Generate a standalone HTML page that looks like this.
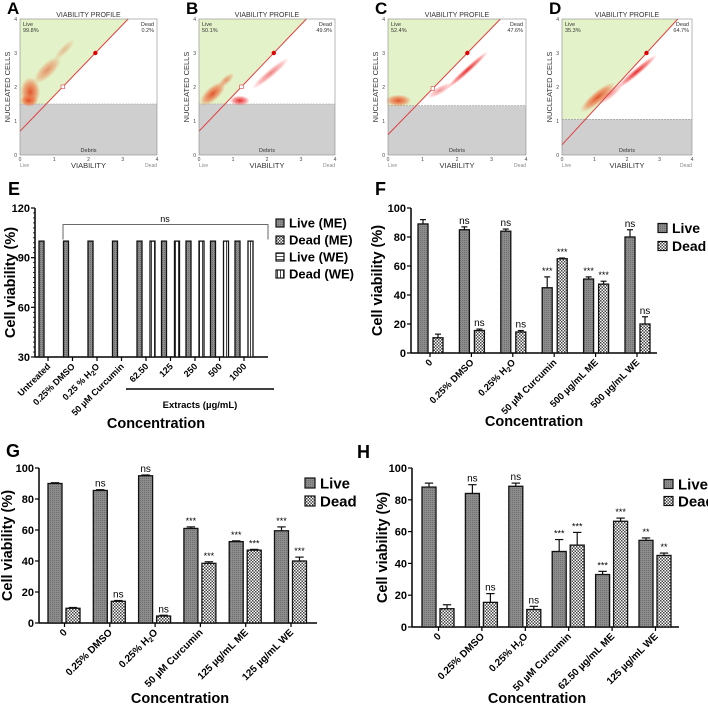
<!DOCTYPE html>
<html><head><meta charset="utf-8">
<style>
html,body{margin:0;padding:0;background:#fff;}
svg{display:block;font-family:"Liberation Sans",Arial,sans-serif;}
</style></head>
<body>
<svg id="fig" width="708" height="705" viewBox="0 0 708 705" xmlns="http://www.w3.org/2000/svg">
<defs>
<pattern id="pLive" width="2" height="2" patternUnits="userSpaceOnUse"><rect width="2" height="2" fill="#8c8c8c"/><rect width="1" height="1" fill="#6e6e6e"/></pattern>
<pattern id="pDead" width="3" height="3" patternUnits="userSpaceOnUse"><rect width="3" height="3" fill="#fff"/><rect width="1.5" height="1.5" fill="#444"/><rect x="1.5" y="1.5" width="1.5" height="1.5" fill="#444"/></pattern>
<pattern id="pLiveWE" width="3" height="3" patternUnits="userSpaceOnUse"><rect width="3" height="3" fill="#fff"/><rect y="1" width="3" height="1" fill="#555"/></pattern>
<pattern id="pDeadWE" width="3" height="3" patternUnits="userSpaceOnUse"><rect width="3" height="3" fill="#fff"/><rect x="1" width="1" height="3" fill="#444"/></pattern>
<radialGradient id="gOr"><stop offset="0" stop-color="#e04a20" stop-opacity="0.95"/><stop offset="0.6" stop-color="#f07040" stop-opacity="0.6"/><stop offset="1" stop-color="#f08050" stop-opacity="0"/></radialGradient>
<radialGradient id="gRd"><stop offset="0" stop-color="#e01010" stop-opacity="0.9"/><stop offset="0.6" stop-color="#f03030" stop-opacity="0.5"/><stop offset="1" stop-color="#ff4040" stop-opacity="0"/></radialGradient>
</defs>
<g id="root"></g>
</svg>
<script>
// ---------- Flow panels data ----------
const flowLetters = ["A","B","C","D"];
const flowLivePct = ["99.8%","50.1%","52.4%","35.3%"];
const flowDeadPct = ["0.2%","49.9%","47.6%","64.7%"];
const flowDebris = [1.5,1.5,1.45,1.05];
const flowIntercept = [0.7,0.7,0.6,0.3];
const flowDotX = [2.2,2.2,2.3,2.6];
const flowSqX = [1.25,1.25,1.3,null];
const flowLeft = [20,199,388,562];
const flowRight = [157,335,526,692];

// ---------- Panel E ----------
const eCats = ["Untreated","0.25% DMSO","0.25 % H2O","50 µM Curcumin","62.50","125","250","500","1000"];
const eLiveME = [100,100,100,100,100,100,100,100,100];
const eDeadWE = [null,null,null,null,100,100,100,100,100];
const eTicks = [30,60,90,120];

// ---------- Panel F ----------
const fCats = ["0","0.25% DMSO","0.25% H2O","50 µM Curcumin","500 µg/mL ME","500 µg/mL WE"];
const fLive = [89,85,84,45,51,80];
const fLiveErr = [3,2,1.5,7.5,1.5,5];
const fDead = [10.5,15.5,14.5,65,47.5,20];
const fDeadErr = [2.5,1,1,0.5,2,5];
const fLiveSig = ["","ns","ns","***","***","ns"];
const fDeadSig = ["","ns","ns","***","***","ns"];

// ---------- Panel G ----------
const gCats = ["0","0.25% DMSO","0.25% H2O","50 µM Curcumin","125 µg/mL ME","125 µg/mL WE"];
const gLive = [90,85.5,95,61,52.5,59.5];
const gLiveErr = [0.5,0.5,0.5,1,0.5,2.5];
const gDead = [9.5,14,4.5,38.5,47,40];
const gDeadErr = [0.5,0.5,0.5,1,0.5,2.5];
const gLiveSig = ["","ns","ns","***","***","***"];
const gDeadSig = ["","ns","ns","***","***","***"];

// ---------- Panel H ----------
const hCats = ["0","0.25% DMSO","0.25% H2O","50 µM Curcumin","62.50 µg/mL ME","125 µg/mL WE"];
const hLive = [88,84,88.5,47.5,33,54.5];
const hLiveErr = [2.5,5.5,2,7.5,2,1.5];
const hDead = [11.5,15.5,11,51.5,66.5,45];
const hDeadErr = [2.5,5.5,2,8,2,1.5];
const hLiveSig = ["","ns","ns","***","***","**"];
const hDeadSig = ["","ns","ns","***","***","**"];
const pctTicks = [0,20,40,60,80,100];

const NS="http://www.w3.org/2000/svg";
const root=document.getElementById('root');
function el(tag,attrs,parent,text){const e=document.createElementNS(NS,tag);for(const k in attrs)e.setAttribute(k,attrs[k]);if(text!==undefined)e.textContent=text;(parent||root).appendChild(e);return e;}
function label(parent,x,y,txt,attrs){
  const t=el('text',Object.assign({x:x,y:y},attrs),parent);
  const i=txt.indexOf('H2O');
  if(i>=0){t.appendChild(document.createTextNode(txt.slice(0,i)+'H'));el('tspan',{'font-size':'7','dy':'2'},t,'2');el('tspan',{'dy':'-2'},t,'O'+txt.slice(i+3));}
  else t.textContent=txt;
  return t;
}

// ---------- Flow panels ----------
flowLetters.forEach((L,i)=>{
  const g=el('g',{});
  
  
  const x0=flowLeft[i],x1=flowRight[i],y0=19,y1=155;
  const sx=v=>x0+(x1-x0)*v/4, sy=v=>y1-(y1-y0)*v/4;
  const b=flowIntercept[i], m=(3-b)/flowDotX[i];
  const xTop=(4-b)/m;
  const xd=(flowDebris[i]-b)/m;
  const live=el('polygon',{points:`${sx(0)},${sy(4)} ${sx(xTop)},${sy(4)} ${sx(xd)},${sy(flowDebris[i])} ${sx(0)},${sy(flowDebris[i])}`,fill:'#e3f2c8'},g);
  
  const deb=el('rect',{x:sx(0),y:sy(flowDebris[i]),width:x1-x0,height:sy(0)-sy(flowDebris[i]),fill:'#cfcfcf'},g);
  
  el('line',{x1:sx(0),x2:sx(4),y1:sy(flowDebris[i]),y2:sy(flowDebris[i]),stroke:'#999','stroke-width':0.6,'stroke-dasharray':'2,1'},g);
  const E=(cx,cy,rx,ry,f,rot,op)=>el('ellipse',{cx:sx(cx),cy:sy(cy),rx:rx,ry:ry,fill:f,opacity:op||1,transform:`rotate(${rot||0} ${sx(cx)} ${sy(cy)})`},g);
  if(i===0){E(0.3,1.85,10,15,'url(#gOr)');E(0.25,1.6,9,6,'url(#gOr)');E(0.8,2.5,18,7,'url(#gOr)',-45,0.6);E(1.3,3.1,14,4,'url(#gOr)',-45,0.35);}
  if(i===1){E(0.4,1.8,16,7,'url(#gOr)',-42);E(0.8,2.2,10,4,'url(#gOr)',-42,0.6);E(1.2,1.6,10,5,'url(#gRd)');E(2.1,2.4,24,4,'url(#gRd)',-40,0.6);}
  if(i===2){E(0.3,1.6,13,6,'url(#gOr)');E(1.5,1.9,14,4,'url(#gRd)',-30,0.5);E(2.3,2.5,28,3,'url(#gRd)',-42);}
  if(i===3){E(1.1,1.7,22,6,'url(#gOr)',-40);E(1.5,1.8,16,4,'url(#gRd)',-40,0.5);E(2.3,2.45,26,3.5,'url(#gRd)',-40);}
  el('line',{x1:sx(0),y1:sy(b),x2:sx(xTop),y2:sy(4),stroke:'#e04040','stroke-width':1},g);
  el('circle',{cx:sx(flowDotX[i]),cy:sy(3),r:2.2,fill:'#e00000'},g);
  if(flowSqX[i]!==null){const sq=flowSqX[i];el('rect',{x:sx(sq)-1.8,y:sy(b+m*sq)-1.8,width:3.6,height:3.6,fill:'#fff',stroke:'#e04040','stroke-width':0.6},g);}
  el('rect',{x:x0,y:y0,width:x1-x0,height:y1-y0,fill:'none',stroke:'#888','stroke-width':0.6},g);
  [0,1,2,3,4].forEach(v=>{el('text',{x:sx(v),y:y1+6,'font-size':5,'text-anchor':'middle',fill:'#444'},g,String(v));el('text',{x:x0-3,y:sy(v)+2,'font-size':5,'text-anchor':'end',fill:'#444'},g,String(v));});
  el('text',{x:(x0+x1)/2,y:17,'font-size':7,'text-anchor':'middle',fill:'#333'},g,'VIABILITY PROFILE');
  el('text',{x:(x0+x1)/2,y:168,'font-size':7.5,'text-anchor':'middle',fill:'#333'},g,'VIABILITY');
  el('text',{x:(x0+x1)/2,y:sy(0)-3,'font-size':5.5,'text-anchor':'middle',fill:'#333'},g,'Debris');
  el('text',{x:x0+3,y:26,'font-size':5.5,fill:'#333'},g,'Live');
  el('text',{x:x0+3,y:32,'font-size':5.5,fill:'#333'},g,flowLivePct[i]);
  el('text',{x:x1-3,y:26,'font-size':5.5,fill:'#333','text-anchor':'end'},g,'Dead');
  el('text',{x:x1-3,y:32,'font-size':5.5,fill:'#333','text-anchor':'end'},g,flowDeadPct[i]);
  el('text',{x:x0,y:167,'font-size':5,fill:'#888'},g,'Live');
  el('text',{x:x1,y:167,'font-size':5,fill:'#888','text-anchor':'end'},g,'Dead');
  el('text',{x:x0-10,y:(y0+y1)/2,'font-size':7.5,fill:'#333','text-anchor':'middle',transform:`rotate(-90 ${x0-10} ${(y0+y1)/2})`},g,'NUCLEATED CELLS');
  const lt=el('text',{x:x0-13,y:14,'font-size':17,'font-weight':'bold',fill:'#000'},g,L);
  
});

// ---------- Bar chart helper ----------
function barChart(o){
  const g=el('g',{});
  
  
  const sy=v=>o.yBot-(v-o.yMin)/(o.yMax-o.yMin)*(o.yBot-o.yTop);
  el('line',{x1:o.ax,x2:o.ax,y1:o.yTop,y2:o.yBot,stroke:'#000','stroke-width':1.5},g);
  el('line',{x1:o.ax,x2:o.axEnd,y1:o.yBot,y2:o.yBot,stroke:'#000','stroke-width':1.5},g);
  o.ticks.forEach(t=>{el('line',{x1:o.ax-4,x2:o.ax,y1:sy(t),y2:sy(t),stroke:'#000','stroke-width':1.2},g);
    el('text',{x:o.ax-5,y:sy(t)+4,'font-size':11,'font-weight':'bold','text-anchor':'end'},g,String(t));});
  if(o.minor){for(let v=o.yMin;v<=o.yMax;v+=o.minor){el('line',{x1:o.ax-2,x2:o.ax,y1:sy(v),y2:sy(v),stroke:'#000','stroke-width':0.8},g);}}
  const yt=el('text',{x:o.ytX,y:(o.yTop+o.yBot)/2,'font-size':14.5,'font-weight':'bold','text-anchor':'middle',transform:`rotate(-90 ${o.ytX} ${(o.yTop+o.yBot)/2})`},g,'Cell viability (%)');
  
  o.series.forEach((s)=>{
    s.vals.forEach((v,ci)=>{
      if(v===null)return;
      const x=o.x0+ci*o.step+s.off;
      const r=el('rect',{x:x,y:sy(v),width:o.bw,height:sy(o.yMin)-sy(v),fill:s.fill,stroke:'#111','stroke-width':1.3},g);
      
      
      if(s.err){const e=s.err[ci],cx=x+o.bw/2;
        el('line',{x1:cx,x2:cx,y1:sy(v),y2:sy(v+e),stroke:'#111','stroke-width':1.2},g);
        el('line',{x1:cx-o.bw*0.3,x2:cx+o.bw*0.3,y1:sy(v+e),y2:sy(v+e),stroke:'#111','stroke-width':1.2},g);
        if(s.sig&&s.sig[ci])el('text',{x:cx,y:sy(v+e)-3,'font-size':s.sig[ci]==='ns'?10:9,'text-anchor':'middle'},g,s.sig[ci]);}
    });
  });
  o.cats.forEach((c,ci)=>{
    const tx=o.x0+ci*o.step+o.tickOff;
    el('line',{x1:tx,x2:tx,y1:o.yBot,y2:o.yBot+4,stroke:'#000','stroke-width':1.2},g);
    const t=label(g,tx+3,o.yBot+10,c,{'font-size':o.catFs,'font-weight':'bold','text-anchor':'end',transform:`rotate(-45 ${tx+3} ${o.yBot+10})`});
    
  });
  const ct=el('text',{x:o.ctX,y:o.ctY,'font-size':14.5,'font-weight':'bold','text-anchor':'middle'},g,'Concentration');
  
  o.legend.forEach((l,li)=>{
    const ly=o.legY+li*o.legStep;
    const lb=el('rect',{x:o.legX,y:ly-o.legBox/2,width:o.legBox,height:o.legBox,fill:l.fill,stroke:'#111','stroke-width':1.2},g);
    
    const lt=el('text',{x:o.legX+o.legBox+5,y:ly+o.legFs*0.36,'font-size':o.legFs,'font-weight':'bold'},g,l.t);
    
  });
  const pl=el('text',{x:o.lx,y:o.ly,'font-size':18,'font-weight':'bold'},g,o.letter);
  
  return {g,sy};
}

// Panel E
const E=barChart({name:'chart-e',letter:'E',lx:8,ly:195,ax:35,axEnd:268,yTop:208,yBot:357,yMin:30,yMax:120,ticks:eTicks,minor:3,ytX:15,
  x0:39,step:24.5,bw:5,tickOff:9,catFs:9,
  series:[{key:'live-me',vals:eLiveME,fill:'url(#pLive)',off:0},{key:'dead-we',vals:eDeadWE,fill:'url(#pDeadWE)',off:13}],
  cats:eCats,ctX:156,ctY:428,
  legend:[{t:'Live (ME)',fill:'url(#pLive)'},{t:'Dead (ME)',fill:'url(#pDead)'},{t:'Live (WE)',fill:'url(#pLiveWE)'},{t:'Dead (WE)',fill:'url(#pDeadWE)'}],
  legX:276,legY:223,legStep:17,legBox:8,legFs:13});
const br=el('path',{d:`M63 ${E.sy(101)} V${E.sy(110)} H268 V${E.sy(101)}`,fill:'none',stroke:'#555','stroke-width':0.9},E.g);

el('text',{x:165,y:E.sy(111.5),'font-size':9,'text-anchor':'middle'},E.g,'ns');
const exl=el('line',{x1:126,x2:274,y1:389,y2:389,stroke:'#000','stroke-width':1.6},E.g);

el('text',{x:200,y:408,'font-size':9.5,'font-weight':'bold','text-anchor':'middle'},E.g,'Extracts (µg/mL)');

// Panel F
barChart({name:'chart-f',letter:'F',lx:375,ly:195,ax:411,axEnd:657,yTop:208,yBot:353,yMin:0,yMax:100,ticks:pctTicks,ytX:382,
  x0:418,step:41.4,bw:10,tickOff:12,catFs:9.5,
  series:[{key:'live',vals:fLive,err:fLiveErr,sig:fLiveSig,fill:'url(#pLive)',off:0},{key:'dead',vals:fDead,err:fDeadErr,sig:fDeadSig,fill:'url(#pDead)',off:15}],
  cats:fCats,ctX:534,ctY:426,
  legend:[{t:'Live',fill:'url(#pLive)'},{t:'Dead',fill:'url(#pDead)'}],legX:658,legY:228,legStep:18,legBox:9,legFs:14});

// Panel G
barChart({name:'chart-g',letter:'G',lx:6,ly:457,ax:39,axEnd:317,yTop:468,yBot:623,yMin:0,yMax:100,ticks:pctTicks,ytX:12,
  x0:48,step:45.3,bw:14,tickOff:16.5,catFs:10,
  series:[{key:'live',vals:gLive,err:gLiveErr,sig:gLiveSig,fill:'url(#pLive)',off:0},{key:'dead',vals:gDead,err:gDeadErr,sig:gDeadSig,fill:'url(#pDead)',off:18}],
  cats:gCats,ctX:180,ctY:703,
  legend:[{t:'Live',fill:'url(#pLive)'},{t:'Dead',fill:'url(#pDead)'}],legX:305,legY:483,legStep:18,legBox:10,legFs:15});

// Panel H
barChart({name:'chart-h',letter:'H',lx:357,ly:458,ax:412,axEnd:679,yTop:468,yBot:627,yMin:0,yMax:100,ticks:pctTicks,ytX:387,
  x0:422,step:43.4,bw:14,tickOff:16.5,catFs:10,
  series:[{key:'live',vals:hLive,err:hLiveErr,sig:hLiveSig,fill:'url(#pLive)',off:0},{key:'dead',vals:hDead,err:hDeadErr,sig:hDeadSig,fill:'url(#pDead)',off:18}],
  cats:hCats,ctX:537,ctY:703,
  legend:[{t:'Live',fill:'url(#pLive)'},{t:'Dead',fill:'url(#pDead)'}],legX:664,legY:484,legStep:17,legBox:9,legFs:15});
</script>
</body></html>
